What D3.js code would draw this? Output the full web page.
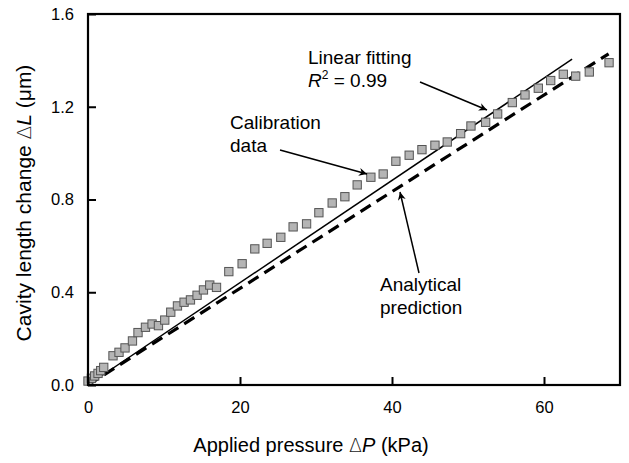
<!DOCTYPE html>
<html><head><meta charset="utf-8">
<script src="https://cdn.jsdelivr.net/npm/d3@7"></script>
<style>
html,body{margin:0;padding:0;background:#fff;}
svg{display:block;font-family:"Liberation Sans",Arial,sans-serif;}
</style></head>
<body>
<svg id="chart" width="629" height="463"></svg>
<script>
// Calibration data: applied pressure (kPa) vs cavity length change (µm)
const pressure = [0, 0.45, 0.88, 1.32, 1.67, 2.07, 3.29, 4.08, 4.87, 5.85, 6.58, 7.56, 8.43, 9.27, 10.1, 10.89, 11.77, 12.64, 13.48, 14.35, 15.19, 16.02, 16.91, 18.53, 20.28, 21.95, 23.57, 25.37, 26.99, 28.76, 30.38, 32.13, 33.8, 35.42, 37.22, 38.84, 40.51, 42.26, 43.94, 45.65, 47.27, 49.03, 50.39, 52.32, 53.9, 55.83, 57.5, 59.25, 60.88, 62.54, 64.17, 65.96, 68.56];
const lengthChange = [0.017, 0.029, 0.039, 0.05, 0.062, 0.076, 0.126, 0.141, 0.16, 0.19, 0.226, 0.249, 0.263, 0.256, 0.28, 0.314, 0.341, 0.357, 0.367, 0.387, 0.41, 0.431, 0.421, 0.489, 0.523, 0.587, 0.611, 0.637, 0.682, 0.695, 0.743, 0.785, 0.812, 0.863, 0.896, 0.91, 0.965, 0.991, 1.015, 1.034, 1.048, 1.084, 1.117, 1.133, 1.169, 1.218, 1.251, 1.28, 1.313, 1.34, 1.332, 1.35, 1.39];
// Linear fit and analytical prediction (endpoints)
const fitLine = [[0, 0], [63.7, 1.405]];
const analyticalLine = [[0, 0], [68.5, 1.428]];
const xTicks = [0, 20, 40, 60];
const yTicks = [0.0, 0.4, 0.8, 1.2, 1.6];

const svg = d3.select("#chart");
const L = 88, R = 620, T = 14, B = 385;
const x = d3.scaleLinear().domain([0, 70]).range([L, R]);
const y = d3.scaleLinear().domain([0, 1.6]).range([B, T]);

// lines
const line = d3.line().x(d => x(d[0])).y(d => y(d[1]));
svg.append("path").datum(analyticalLine).attr("d", line)
  .attr("fill", "none").attr("stroke", "#000").attr("stroke-width", 3.2)
  .attr("stroke-dasharray", "12,7");
svg.append("path").datum(fitLine).attr("d", line)
  .attr("fill", "none").attr("stroke", "#000").attr("stroke-width", 1.5);

// points
const s = 8.3;
svg.append("g").selectAll("rect").data(pressure.map((p, i) => [p, lengthChange[i]]))
  .join("rect")
  .attr("x", d => x(d[0]) - s / 2).attr("y", d => y(d[1]) - s / 2)
  .attr("width", s).attr("height", s)
  .attr("fill", "#b5b5b5").attr("stroke", "#555").attr("stroke-width", 1);

// axes (ticks inward)
const xAxis = d3.axisBottom(x).tickValues(xTicks).tickSize(-8).tickPadding(18).tickFormat(d3.format("d"));
const yAxis = d3.axisLeft(y).tickValues(yTicks).tickSize(-8).tickPadding(14).tickFormat(d3.format(".1f"));
const gx = svg.append("g").attr("transform", `translate(0,${B})`).call(xAxis);
const gy = svg.append("g").attr("transform", `translate(${L},0)`).call(yAxis);
[gx, gy].forEach(g => {
  g.select(".domain").remove();
  g.selectAll(".tick line").attr("stroke", "#000").attr("stroke-width", 2);
  g.selectAll(".tick text").attr("font-size", 16.5).attr("fill", "#000")
    .attr("font-family", "Liberation Sans, Arial, sans-serif");
});
gx.selectAll(".tick text").attr("dy", "0.71em").attr("y", 16);
// frame
svg.append("rect").attr("x", L).attr("y", T).attr("width", R - L).attr("height", B - T)
  .attr("fill", "none").attr("stroke", "#000").attr("stroke-width", 2.2);

// axis titles
const xt = svg.append("text").attr("x", 311).attr("y", 452).attr("text-anchor", "middle")
  .attr("font-size", 20).attr("fill", "#000");
xt.append("tspan").text("Applied pressure ");
xt.append("tspan").text("Δ").attr("font-family", "DejaVu Sans").attr("font-weight", 200).attr("fill", "#222").attr("font-size", 19);
xt.append("tspan").text("P").attr("font-style", "italic");
xt.append("tspan").text(" (kPa)");

const yt = svg.append("text").attr("transform", "translate(31,203) rotate(-90)")
  .attr("text-anchor", "middle").attr("font-size", 21).attr("fill", "#000");
yt.append("tspan").text("Cavity length change ");
yt.append("tspan").text("Δ").attr("font-family", "DejaVu Sans").attr("font-weight", 200).attr("fill", "#222").attr("font-size", 20);
yt.append("tspan").text("L").attr("font-style", "italic");
yt.append("tspan").text(" (μm)");

// annotations
svg.append("defs").append("marker").attr("id", "arr").attr("viewBox", "0 0 10 10")
  .attr("refX", 10).attr("refY", 5).attr("markerWidth", 11).attr("markerHeight", 8)
  .attr("markerUnits", "userSpaceOnUse").attr("orient", "auto")
  .append("path").attr("d", "M0,0 L10,5 L0,10 L3,5 Z").attr("fill", "#000");

function note(lines, tx, ty, from, to) {
  const t = svg.append("text").attr("font-size", 19).attr("fill", "#000");
  lines.forEach((ln, i) => {
    const ts = t.append("tspan").attr("x", tx).attr("y", ty + i * 22.5);
    ln.forEach(part => {
      const p = ts.append("tspan").text(part.t);
      if (part.i) p.attr("font-style", "italic");
      if (part.sup) p.attr("font-size", 12).attr("dy", -8);
      if (part.after) p.attr("dy", 8);
    });
  });
  svg.append("line").attr("x1", from[0]).attr("y1", from[1]).attr("x2", to[0]).attr("y2", to[1])
    .attr("stroke", "#000").attr("stroke-width", 1.5).attr("marker-end", "url(#arr)");
}
note([[{t: "Linear fitting"}], [{t: "R", i: true}, {t: "2", sup: true}, {t: " = 0.99", after: true}]], 308, 64, [420, 82], [487, 110]);
note([[{t: "Calibration"}], [{t: "data"}]], 230, 129, [280, 150], [367, 174]);
note([[{t: "Analytical"}], [{t: "prediction"}]], 380, 291, [419, 273], [400, 192]);
</script>
</body></html>
